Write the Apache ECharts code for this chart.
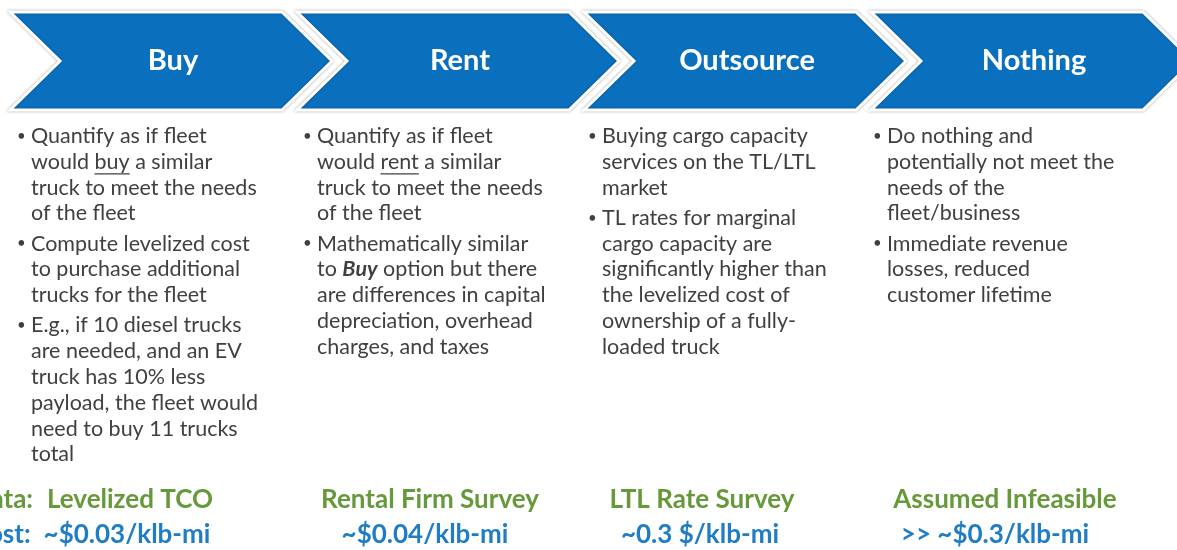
<!DOCTYPE html>
<html>
<head>
<meta charset="utf-8">
<script src="https://cdn.jsdelivr.net/npm/echarts@6/dist/echarts.min.js"></script>
<style>
html, body { margin: 0; padding: 0; background: #fff; }
#main { width: 1177px; height: 550px; }
</style>
</head>
<body>
<div id="main"></div>
<script>
// options along the chevron row
var options = ['Buy', 'Rent', 'Outsource', 'Nothing'];

// bullet text, one list of lines per bullet ({u|..} underline, {bi|..} bold italic)
var buyBullets = [
    ['Quantify as if fleet', 'would {u|buy} a similar', 'truck to meet the needs', 'of the fleet'],
    ['Compute levelized cost', 'to purchase additional', 'trucks for the fleet'],
    ['E.g., if 10 diesel trucks', 'are needed, and an EV', 'truck has 10% less', 'payload, the fleet would', 'need to buy 11 trucks', 'total']
];
var rentBullets = [
    ['Quantify as if fleet', 'would {u|rent} a similar', 'truck to meet the needs', 'of the fleet'],
    ['Mathematically similar', 'to {bi|Buy} option but there', 'are differences in capital', 'depreciation, overhead', 'charges, and taxes']
];
var outsourceBullets = [
    ['Buying cargo capacity', 'services on the TL/LTL', 'market'],
    ['TL rates for marginal', 'cargo capacity are', 'significantly higher than', 'the levelized cost of', 'ownership of a fully-', 'loaded truck']
];
var nothingBullets = [
    ['Do nothing and', 'potentially not meet the', 'needs of the', 'fleet/business'],
    ['Immediate revenue', 'losses, reduced', 'customer lifetime']
];
var bullets = [buyBullets, rentBullets, outsourceBullets, nothingBullets];

// bottom rows
var rowLabels = ['Data:', 'Cost:'];
var sources = ['Levelized TCO', 'Rental Firm Survey', 'LTL Rate Survey', 'Assumed Infeasible'];
var costs = ['~$0.03/klb-mi', '~$0.04/klb-mi', '~0.3 $/klb-mi', '>> ~$0.3/klb-mi'];

// layout
var colLeft = [10, 297, 584, 871];
var textLeft = [31, 317, 602, 887];
var bottomCenter = [130, 430, 702, 1005];
var costCenter = [127, 425, 700, 995];
var BODY_FONT = '21.5px Lato';
var BOTTOM_FONT = 'bold 26px Lato';
var GRAY = '#404040';
var BLUE = '#0a70be';
var GREEN = '#66993a';
var COST_BLUE = '#1f7dc6';

var measureCtx = document.createElement('canvas').getContext('2d');
function textWidth(s, font) {
    measureCtx.font = font;
    return measureCtx.measureText(s).width;
}

function renderColumn(params, api) {
    var i = params.dataIndex;
    var x0 = colLeft[i];
    var p = function (x, y) { return api.coord([x, y]); };
    var children = [];

    // chevron
    children.push({
        type: 'polygon',
        shape: {
            points: [p(x0, 12), p(x0 + 272, 12), p(x0 + 322, 61), p(x0 + 272, 110), p(x0, 110), p(x0 + 50, 61)]
        },
        style: { fill: BLUE, stroke: '#fff', lineWidth: 3, shadowBlur: 3, shadowColor: 'rgba(0,0,0,0.3)' }
    });
    var tc = p(x0 + 163, 61);
    children.push({
        type: 'text',
        style: {
            text: options[i], x: tc[0], y: tc[1], fill: '#fff',
            font: 'bold 29px Lato', align: 'center', verticalAlign: 'middle'
        }
    });

    // bullets
    var y = 136;
    bullets[i].forEach(function (lines) {
        var bp = p(textLeft[i] - 14, y);
        children.push({
            type: 'text',
            style: { text: '•', x: bp[0], y: bp[1], fill: GRAY, font: '15px Lato', verticalAlign: 'middle' }
        });
        lines.forEach(function (line) {
            var lp = p(textLeft[i], y);
            children.push({
                type: 'text',
                style: {
                    text: line, x: lp[0], y: lp[1], fill: GRAY, font: BODY_FONT,
                    verticalAlign: 'middle',
                    rich: {
                        u: { fill: GRAY, font: BODY_FONT },
                        bi: { fill: GRAY, font: 'italic bold 21.5px Lato' }
                    }
                }
            });
            var m = line.match(/^(.*)\{u\|([^}]*)\}/);
            if (m) {
                var ux = lp[0] + textWidth(m[1], BODY_FONT);
                var uw = textWidth(m[2], BODY_FONT);
                children.push({
                    type: 'line',
                    shape: { x1: ux, y1: lp[1] + 12, x2: ux + uw, y2: lp[1] + 12 },
                    style: { stroke: GRAY, lineWidth: 1.3 }
                });
            }
            y += 25.8;
        });
        y += 4.4;
    });

    var sp = p(bottomCenter[i], 500);
    children.push({
        type: 'text',
        style: {
            text: sources[i], x: sp[0], y: sp[1], fill: GREEN,
            font: BOTTOM_FONT, align: 'center', verticalAlign: 'middle'
        }
    });
    var cp = p(costCenter[i], 535);
    children.push({
        type: 'text',
        style: {
            text: costs[i], x: cp[0], y: cp[1], fill: COST_BLUE,
            font: BOTTOM_FONT, align: 'center', verticalAlign: 'middle'
        }
    });
    if (i === 0) {
        // row labels start left of the page edge, so only their ends show
        var dp = p(-29, 500), cl = p(-29, 535);
        children.push({
            type: 'text',
            style: { text: rowLabels[0], x: dp[0], y: dp[1], fill: GREEN, font: BOTTOM_FONT, align: 'left', verticalAlign: 'middle' }
        });
        children.push({
            type: 'text',
            style: { text: rowLabels[1], x: cl[0], y: cl[1], fill: COST_BLUE, font: BOTTOM_FONT, align: 'left', verticalAlign: 'middle' }
        });
    }
    return { type: 'group', children: children };
}

var chart = echarts.init(document.getElementById('main'));
chart.setOption({
    animation: false,
    backgroundColor: '#fff',
    grid: { left: 0, right: 0, top: 0, bottom: 0 },
    xAxis: { type: 'value', min: 0, max: 1177, show: false },
    yAxis: { type: 'value', min: 0, max: 550, inverse: true, show: false },
    series: [{
        type: 'custom',
        clip: false,
        silent: true,
        data: options.map(function (name, i) { return [i]; }),
        renderItem: renderColumn
    }]
});
</script>
</body>
</html>
